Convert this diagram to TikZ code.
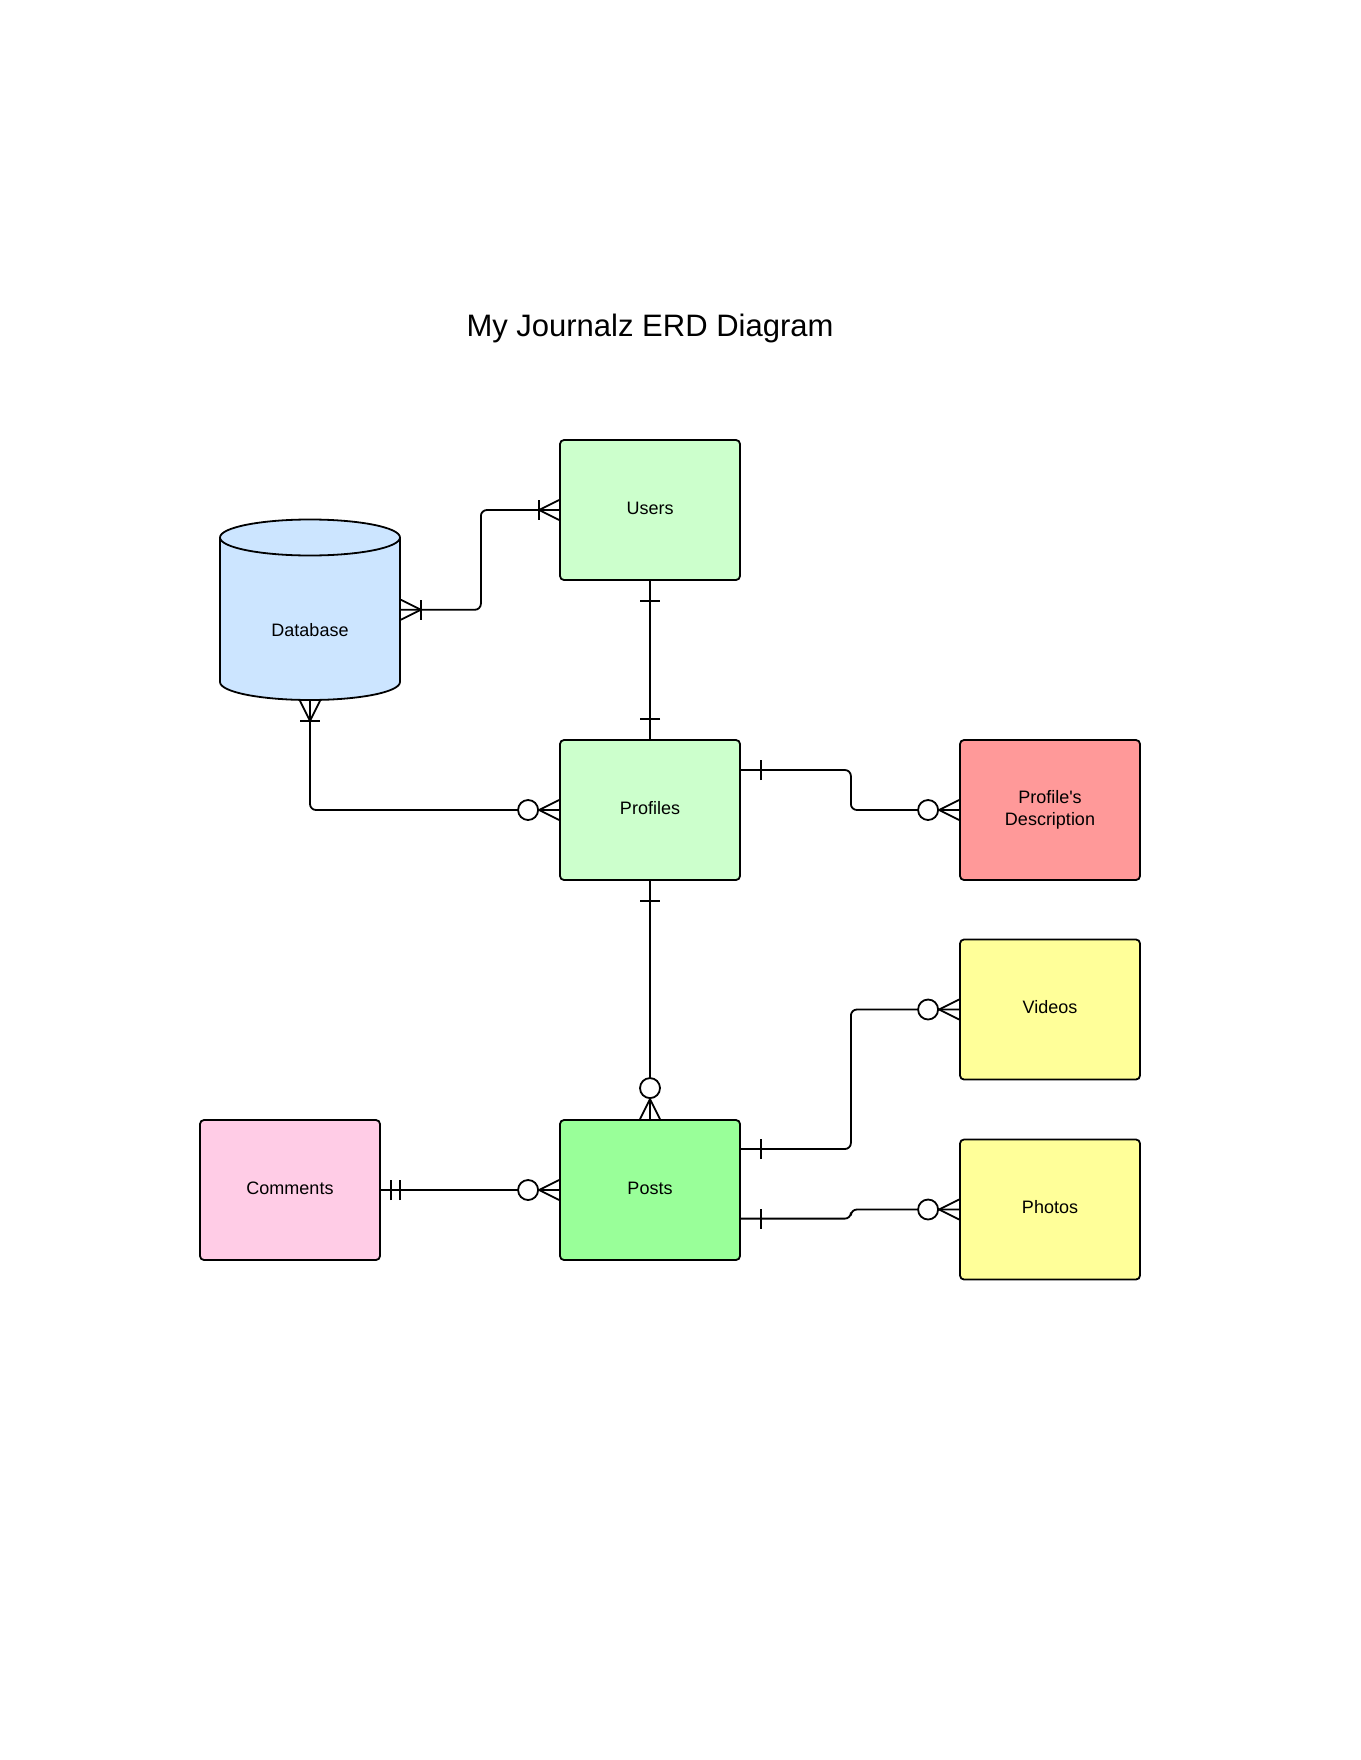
\documentclass[tikz,border=0pt]{standalone}
\usepackage{fontspec}
\setmainfont{Liberation Sans}
\definecolor{lightgreen}{HTML}{CCFFCC}
\definecolor{postgreen}{HTML}{99FF99}
\definecolor{dbblue}{HTML}{CCE5FF}
\definecolor{commentpink}{HTML}{FFCCE6}
\definecolor{descred}{HTML}{FF9999}
\definecolor{mediayellow}{HTML}{FFFF99}
\tikzset{
  box/.style={draw, rounded corners=2pt, minimum width=90pt, minimum height=70pt,
    inner sep=0pt, align=center, font=\fontsize{9}{10.7}\selectfont},
  entity/.style={box, text height=6.6pt, text depth=2.4pt},
  link/.style={rounded corners=3pt},
  onemany/.pic={\draw (0,10) -- (-20,0) -- (0,-10); \draw (-20,10) -- (-20,-10);},
  zeromany/.pic={\draw (0,10) -- (-20,0) -- (0,-10); \draw[fill=white] (-31,0) circle (10);},
  onebar/.pic={\draw (-20,10) -- (-20,-10);},
  twobar/.pic={\draw (-10,10) -- (-10,-10); \draw (-19,10) -- (-19,-10);}
}
\begin{document}
\begin{tikzpicture}[x=0.5pt,y=0.5pt,line width=0.9pt]
\useasboundingbox (0,0) rectangle (1360,-1760);
\node[font=\fontsize{15.5}{18}\selectfont] (title) at (650,-328.5) {My Journalz ERD Diagram};

%Database cylinder
\draw[fill=dbblue] (220,-537.5) -- (220,-682) arc[start angle=180,end angle=360,x radius=45pt,y radius=9pt]
  -- (400,-537.5) arc[start angle=0,end angle=180,x radius=45pt,y radius=9pt] -- cycle;
\draw (220,-537.5) arc[start angle=180,end angle=360,x radius=45pt,y radius=9pt];
\node[minimum width=90pt, minimum height=90.25pt, inner sep=0pt] (DB) at (310,-609.75) {};
\node[font=\fontsize{9}{10.7}\selectfont] (DBname) at (310,-630) {Database};

%entities
\node[entity, fill=lightgreen] (Users) at (650,-510) {Users};
\node[entity, fill=lightgreen] (Profiles) at (650,-810) {Profiles};
\node[box, fill=descred] (Desc) at (1050,-810) {Profile\textquotesingle s\\Description};
\node[entity, fill=mediayellow] (Videos) at (1050,-1009.5) {Videos};
\node[entity, fill=mediayellow] (Photos) at (1050,-1209.5) {Photos};
\node[entity, fill=postgreen] (Posts) at (650,-1190) {Posts};
\node[entity, fill=commentpink] (Comments) at (290,-1190) {Comments};

%connectors
\draw[link] (DB.east) -- ++(80,0) |- (Users.west);
\draw[link] (DB.south) |- (Profiles.west);
\draw (Users.south) -- (Profiles.north);
\draw[link] ([yshift=20pt]Profiles.east) -- ++(110,0) |- (Desc.west);
\draw (Profiles.south) -- (Posts.north);
\draw[link] ([yshift=20.5pt]Posts.east) -- ++(110,0) |- (Videos.west);
\draw[link] ([yshift=-14.3pt]Posts.east) -- ++(110,0) |- (Photos.west);
\draw (Comments.east) -- (Posts.west);

%ends
\pic[rotate=180] at (DB.east) {onemany};
\pic at (Users.west) {onemany};
\pic[rotate=90] at (DB.south) {onemany};
\pic at (Profiles.west) {zeromany};
\pic[rotate=90] at (Users.south) {onebar};
\pic[rotate=-90] at (Profiles.north) {onebar};
\pic[rotate=180] at ([yshift=20pt]Profiles.east) {onebar};
\pic at (Desc.west) {zeromany};
\pic[rotate=90] at (Profiles.south) {onebar};
\pic[rotate=-90] at (Posts.north) {zeromany};
\pic[rotate=180] at ([yshift=20.5pt]Posts.east) {onebar};
\pic at (Videos.west) {zeromany};
\pic[rotate=180] at ([yshift=-14.3pt]Posts.east) {onebar};
\pic at (Photos.west) {zeromany};
\pic[rotate=180] at (Comments.east) {twobar};
\pic at (Posts.west) {zeromany};
\end{tikzpicture}
\end{document}
